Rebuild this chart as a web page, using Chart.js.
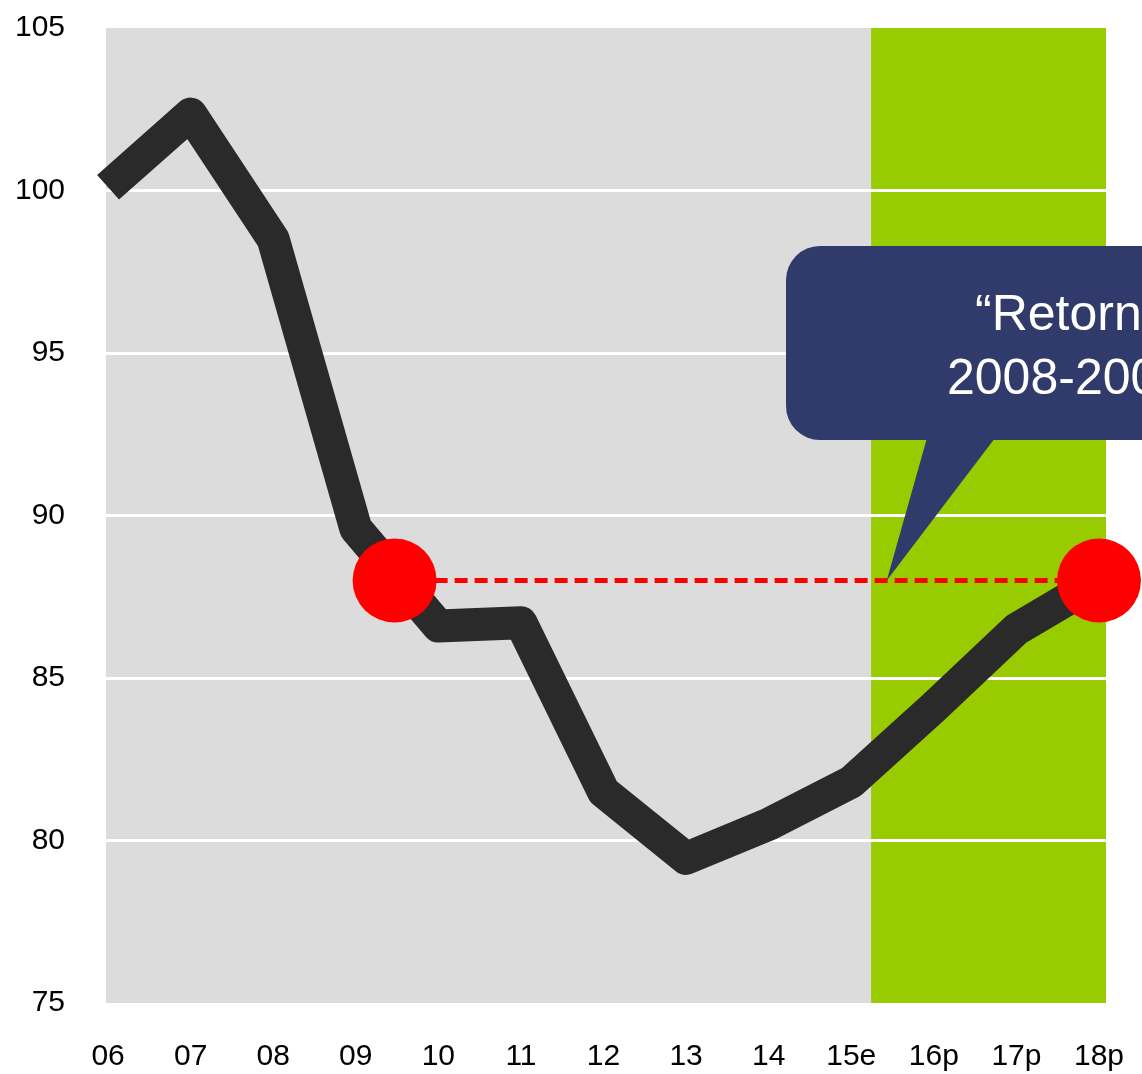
<!DOCTYPE html>
<html>
<head>
<meta charset="utf-8">
<script src="https://cdn.jsdelivr.net/npm/chart.js@4/dist/chart.umd.min.js"></script>
<style>
  html, body { margin: 0; padding: 0; background: #fff; }
  #wrap { width: 1142px; height: 1074px; }
</style>
</head>
<body>
<div id="wrap"><canvas id="chart" width="1142" height="1074"></canvas></div>
<script>
// years (e = estimate, p = forecast)
const labels = ['06', '07', '08', '09', '10', '11', '12', '13', '14', '15e', '16p', '17p', '18p'];
const index = [100.1, 102.35, 98.5, 89.6, 86.6, 86.7, 81.5, 79.45, 80.5, 81.8, 84.1, 86.5, 88.0];
const yTicks = [75, 80, 85, 90, 95, 100, 105];

// the 2008-2009 level that is reached again in 18p
const returnLevel = 88.0;
const returnFrom = 3.47;   // between 09 and 10
const returnTo = 12;       // 18p
const forecastStart = 9.24; // green band starts after 15e

const calloutLines = ['\u201CRetornem als nivells de', '2008-2009\u201D'];

const lineData = index.map((v, i) => ({ x: i, y: v }));

const noPadding = (axis) => {
  axis.paddingTop = 0;
  axis.paddingBottom = 0;
  axis.paddingLeft = 0;
  axis.paddingRight = 0;
};

const backgroundPlugin = {
  id: 'bands',
  beforeDraw(chart) {
    const { ctx, chartArea: a, scales: { x } } = chart;
    const split = x.getPixelForValue(forecastStart);
    ctx.save();
    ctx.fillStyle = '#dcdcdc';
    ctx.fillRect(a.left, a.top, split - a.left, a.bottom - a.top);
    ctx.fillStyle = '#99cc00';
    ctx.fillRect(split, a.top, a.right - split, a.bottom - a.top);
    ctx.restore();
  }
};

const calloutPlugin = {
  id: 'callout',
  afterDraw(chart) {
    const { ctx, scales: { x, y } } = chart;
    const tipX = x.getPixelForValue(9.43);
    const tipY = y.getPixelForValue(returnLevel);
    const left = 786, top = 246, bottom = 440, r = 34;
    ctx.save();
    ctx.fillStyle = '#303b6b';
    ctx.beginPath();
    ctx.roundRect(left, top, 700, bottom - top, r);
    ctx.fill();
    ctx.beginPath();
    ctx.moveTo(927, bottom - 2);
    ctx.lineTo(995, bottom - 2);
    ctx.lineTo(tipX, tipY);
    ctx.closePath();
    ctx.fill();
    ctx.fillStyle = '#ffffff';
    ctx.font = '50px "Liberation Sans", Arial, sans-serif';
    ctx.textBaseline = 'alphabetic';
    ctx.textAlign = 'left';
    ctx.fillText(calloutLines[0], 975, 330);
    ctx.fillText(calloutLines[1], 947, 394);
    ctx.restore();
  }
};

new Chart(document.getElementById('chart'), {
  type: 'line',
  data: {
    datasets: [
      {
        label: 'dots',
        data: [{ x: returnFrom, y: returnLevel }, { x: returnTo, y: returnLevel }],
        showLine: false,
        pointRadius: 42,
        pointBackgroundColor: '#ff0000',
        pointBorderWidth: 0,
        clip: false,
        order: 0
      },
      {
        label: 'level',
        data: [{ x: returnFrom, y: returnLevel }, { x: returnTo, y: returnLevel }],
        borderColor: '#ff0000',
        borderWidth: 5,
        borderDash: [13, 7],
        pointRadius: 0,
        order: 1
      },
      {
        label: 'Index',
        data: lineData,
        borderColor: '#2a2a2a',
        borderWidth: 33,
        borderJoinStyle: 'round',
        borderCapStyle: 'butt',
        tension: 0,
        pointRadius: 0,
        clip: false,
        order: 2
      }
    ]
  },
  options: {
    responsive: false,
    animation: false,
    layout: { autoPadding: false, padding: { top: 28, right: 36, left: 0, bottom: 0 } },
    plugins: { legend: { display: false }, tooltip: { enabled: false } },
    scales: {
      x: {
        type: 'linear',
        min: -0.025,
        max: 12.085,
        afterBuildTicks(axis) {
          axis.ticks = labels.map((_, i) => ({ value: i }));
        },
        afterFit(axis) { axis.height = 71; noPadding(axis); },
        grid: { display: false, drawTicks: false },
        border: { display: false },
        ticks: {
          autoSkip: false,
          maxRotation: 0,
          padding: 36,
          color: '#000',
          font: { family: '"Liberation Sans", Arial, sans-serif', size: 30 },
          callback: (v) => labels[v]
        }
      },
      y: {
        min: 75,
        max: 105,
        afterBuildTicks(axis) {
          axis.ticks = yTicks.map(v => ({ value: v }));
        },
        afterFit(axis) { axis.width = 106; noPadding(axis); },
        grid: {
          drawTicks: false,
          lineWidth: 3,
          color: (c) => (c.tick && (c.tick.value === 75 || c.tick.value === 105)) ? 'rgba(0,0,0,0)' : '#ffffff'
        },
        border: { display: false },
        ticks: {
          padding: 41,
          color: '#000',
          font: { family: '"Liberation Sans", Arial, sans-serif', size: 30 }
        }
      }
    }
  },
  plugins: [backgroundPlugin, calloutPlugin]
});
</script>
</body>
</html>
